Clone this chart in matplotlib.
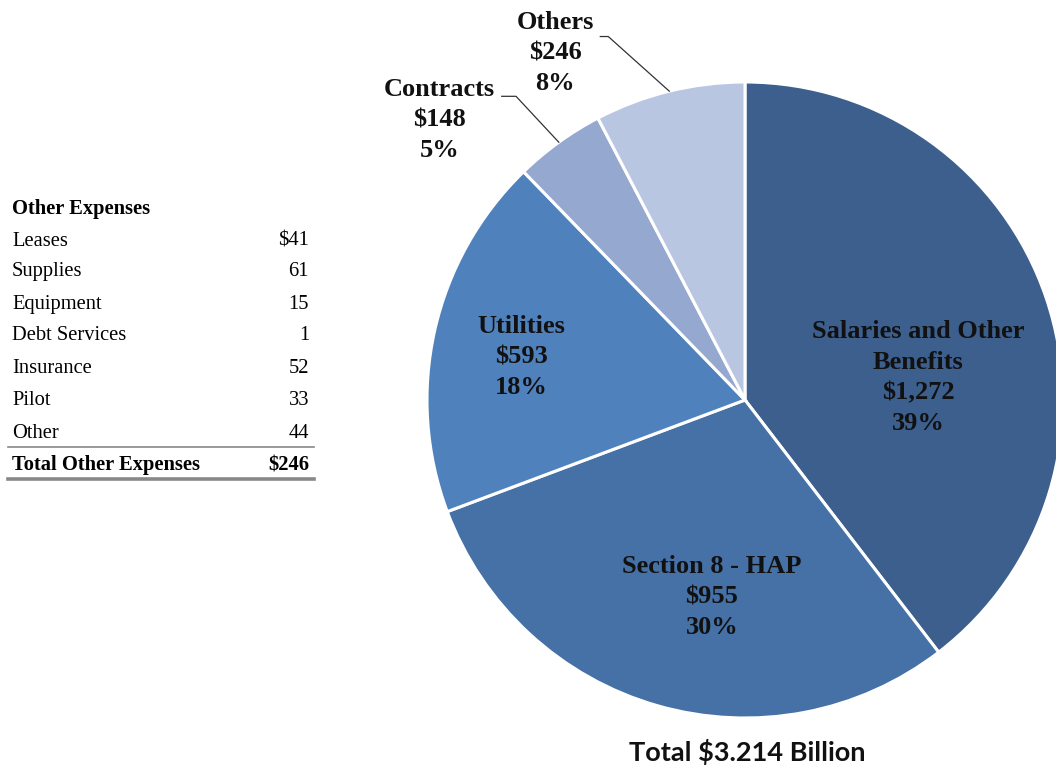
import matplotlib.pyplot as plt
import numpy as np

# Expense categories (millions of dollars)
categories = ['Salaries and Other\nBenefits', 'Section 8 - HAP', 'Utilities', 'Contracts', 'Others']
amounts = [1272, 955, 593, 148, 246]
pct_labels = ['39%', '30%', '18%', '5%', '8%']
amount_labels = ['$1,272', '$955', '$593', '$148', '$246']
colors = ['#3c5f8e', '#4571a6', '#4f81bd', '#95a8d0', '#b9c6e2']

# Other expenses breakdown table
other_items = ['Leases', 'Supplies', 'Equipment', 'Debt Services', 'Insurance', 'Pilot', 'Other']
other_values = ['$41', '61', '15', '1', '52', '33', '44']
other_total = '$246'
total_text = 'Total $3.214 Billion'

W, H = 1056, 772
fig = plt.figure(figsize=(W / 100, H / 100), dpi=100)

# pie axes placed so that centre/radius land where the reference has them
cx, cy, r = 745, 400, 318
ax = fig.add_axes([(cx - r) / W, (H - cy - r) / H, 2 * r / W, 2 * r / H])
wedges, _ = ax.pie(amounts, colors=colors, startangle=90, counterclock=False, radius=1,
                   wedgeprops=dict(edgecolor='white', linewidth=2.2))
ax.set_xlim(-1, 1)
ax.set_ylim(-1, 1)
ax.axis('off')
for w in wedges:
    w.set_clip_on(False)

serif = 'Liberation Serif'
lab_kw = dict(family=serif, fontsize=19, fontweight='bold', color='#111111',
              ha='center', va='center', linespacing=1.42)

# inside labels
inside_pos = {0: (0.545, 0.07), 1: (-0.104, -0.62), 2: (-0.704, 0.135)}
for i, (x, y) in inside_pos.items():
    ax.text(x, y, f'{categories[i]}\n{amount_labels[i]}\n{pct_labels[i]}', **lab_kw)

# outside labels with leader lines to the wedge middle
total = sum(amounts)
cum = np.cumsum([0] + amounts)
mids = [np.deg2rad(90 - 360 * (cum[i] + amounts[i] / 2) / total) for i in range(len(amounts))]

outside = {3: ((-0.96, 0.88), (-0.765, 0.955), (-0.72, 0.955)),
           4: ((-0.597, 1.09), (-0.455, 1.143), (-0.43, 1.143))}
for i, (txt_xy, start, elbow) in outside.items():
    ax.text(*txt_xy, f'{categories[i]}\n{amount_labels[i]}\n{pct_labels[i]}',
            clip_on=False, **lab_kw)
    ex, ey = np.cos(mids[i]), np.sin(mids[i])
    ax.plot([start[0], elbow[0], ex], [start[1], elbow[1], ey],
            color='#333333', linewidth=0.9, clip_on=False)

fig.text(747 / W, 1 - 752 / H, total_text, family='Lato', fontsize=19.5,
         fontweight='bold', ha='center', va='center', color='#111111')

# table on the left
tx0, tx1 = 12 / W, 309 / W
fs = 14.8
row_y = [241, 272, 304, 336, 369, 401, 433]
fig.text(tx0, 1 - 209 / H, 'Other Expenses', family=serif, fontsize=fs,
         fontweight='bold', va='center', ha='left')
for name, val, y in zip(other_items, other_values, row_y):
    fig.text(tx0, 1 - y / H, name, family=serif, fontsize=fs, va='center', ha='left')
    fig.text(tx1, 1 - y / H, val, family=serif, fontsize=fs, va='center', ha='right')
fig.text(tx0, 1 - 465 / H, 'Total Other Expenses', family=serif, fontsize=fs,
         fontweight='bold', va='center', ha='left')
fig.text(tx1, 1 - 465 / H, other_total, family=serif, fontsize=fs,
         fontweight='bold', va='center', ha='right')
fig.add_artist(plt.Line2D([8 / W, 314 / W], [1 - 447 / H] * 2, color='#888888', linewidth=1.2))
fig.add_artist(plt.Line2D([8 / W, 314 / W], [1 - 479 / H] * 2, color='#888888', linewidth=2.6))

fig.savefig('out.png', dpi=100, facecolor='white')
